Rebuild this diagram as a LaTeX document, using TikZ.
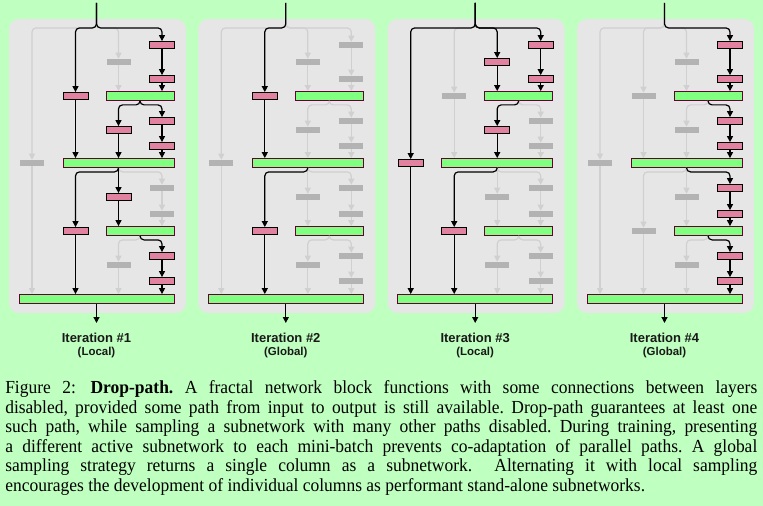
\documentclass[tikz,border=0pt]{standalone}
\usepackage{fontspec}
\setmainfont{Liberation Serif}[FakeStretch=0.95]
\setsansfont{Liberation Sans}
\usetikzlibrary{arrows.meta,calc}
\definecolor{fondo}{RGB}{191,255,191}
\definecolor{panelgris}{RGB}{230,230,230}
\definecolor{rosa}{RGB}{224,130,160}
\definecolor{verde}{RGB}{128,255,128}
\definecolor{granate}{RGB}{102,0,51}
\definecolor{apagado}{RGB}{179,179,179}
\definecolor{lineagris}{RGB}{208,208,208}

\begin{document}
\begin{tikzpicture}[x=0.75pt,y=-0.75pt,>={Triangle[length=4.5pt,width=4.5pt]},
  conv/.style={draw=black,fill=rosa,line width=.6pt,minimum width=18.75pt,minimum height=5.25pt,inner sep=0pt},
  off/.style={fill=apagado,minimum width=18pt,minimum height=4.5pt,inner sep=0pt},
  union/.style={draw=granate,fill=verde,line width=.6pt,minimum height=6.75pt,inner sep=0pt},
  vivo/.style={->,line width=.9pt,black},
  muerto/.style={->,line width=.9pt,lineagris},
  etiqueta/.style={text=black!90,anchor=base}]
  \useasboundingbox (0,0) rectangle (763,506);
  \fill[fondo] (0,0) rectangle (763,506);
  \foreach \p/\lista in {1/{c2a,c4a,c4b,c3b,c4c,c4d,c2b,c3c,c4g,c4h},
                         2/{c2a,c2b},
                         3/{c1a,c3a,c4a,c4b,c3b,c2b},
                         4/{c4a,c4b,c4c,c4d,c4e,c4f,c4g,c4h}}
    {\foreach \b in \lista {\expandafter\gdef\csname on\p\b\endcsname{}}}
  \foreach \p/\ox/\modo in {1/0/Local,2/189.3/Global,3/378.7/Local,4/568/Global}{
    \fill[panelgris,rounded corners=7.5pt] (\ox+9,19) rectangle (\ox+186,313);
    \node[inner sep=0pt] (p\p-in) at (\ox+96.5,2) {};
    \foreach \b/\x/\y in {c1a/32/163,c2a/75.5/96,c2b/75.5/231,
        c3a/118.5/62,c3b/118.5/130,c3c/118.5/197,c3d/118.5/265,
        c4a/162/45,c4b/162/79,c4c/162/121,c4d/162/146,
        c4e/162/188,c4f/162/214,c4g/162/256,c4h/162/281}{
      \ifcsname on\p\b\endcsname\def\estilo{conv}\else\def\estilo{off}\fi
      \node[\estilo] (p\p-\b) at (\ox+\x,\y) {};
    }
    \foreach \j/\x/\y/\w in {j1/140/96/51,j2/118.5/163/83.25,j3/140/231/51,j4/96.5/299/116.25}
      \node[union,minimum width=\w pt] (p\p-\j) at (\ox+\x,\y) {};
    \foreach \pasada in {0,1}{
      \foreach \clase/\desde/\hasta/\bloque/\dy in {r/in/c1a/c1a/25,r/in/c2a/c2a/25,r/in/c3a/c3a/25,r/in/c4a/c4a/25,
          v/c4a/c4b/c4a/0,v/c4b/j1/c4b/0,v/c3a/j1/c3a/0,
          r/j1/c3b/c3b/4,r/j1/c4c/c4c/4,
          v/c4c/c4d/c4c/0,v/c4d/j2/c4d/0,v/c3b/j2/c3b/0,v/c2a/j2/c2a/0,
          r/j2/c2b/c2b/4,v/j2/c3c/c3c/0,r/j2/c4e/c4e/4,
          v/c4e/c4f/c4e/0,v/c4f/j3/c4f/0,v/c3c/j3/c3c/0,
          r/j3/c3d/c3d/4,r/j3/c4g/c4g/4,
          v/c4g/c4h/c4g/0,v/c4h/j4/c4h/0,v/c3d/j4/c3d/0,v/c2b/j4/c2b/0,v/c1a/j4/c1a/0}{
        \ifcsname on\p\bloque\endcsname\def\vale{1}\def\trazo{vivo}\else\def\vale{0}\def\trazo{muerto}\fi
        \ifnum\vale=\pasada
          \if\clase r
            \draw[\trazo,rounded corners=3pt] (p\p-\desde.south) -- ++(0,\dy) -| (p\p-\hasta.north);
          \else
            \draw[\trazo] (p\p-\desde.south) -- (p\p-\desde.south |- p\p-\hasta.north);
          \fi
        \fi
      }
    }
    \coordinate (p\p-out) at (\ox+96.5,323);
    \draw[vivo] (p\p-j4.south) -- (p\p-out);
    \node[etiqueta,font=\sffamily\bfseries\fontsize{9.75}{11}\selectfont] (p\p-tit) at (\ox+96.5,342) {Iteration \#\p};
    \node[etiqueta,font=\sffamily\bfseries\fontsize{8.6}{10}\selectfont] (p\p-modo) at (\ox+96.5,355) {(\modo)};
  }
  \node[anchor=base west,text width=564pt,align=justify,inner sep=0pt,font=\fontsize{13.8}{14.7}\selectfont\frenchspacing] (pie) at (5,393.5)
    {Figure 2:\hspace{.8em}\textbf{Drop-path.} A fractal network block functions with some connections between layers\linebreak
     disabled, provided some path from input to output is still available. Drop-path guarantees at least one\linebreak
     such path, while sampling a subnetwork with many other paths disabled. During training, presenting\linebreak
     a different active subnetwork to each mini-batch prevents co-adaptation of parallel paths. A global\linebreak
     sampling strategy returns a single column as a subnetwork.\ \ Alternating it with local sampling\linebreak
     encourages the development of individual columns as performant stand-alone subnetworks.};
\end{tikzpicture}
\end{document}
